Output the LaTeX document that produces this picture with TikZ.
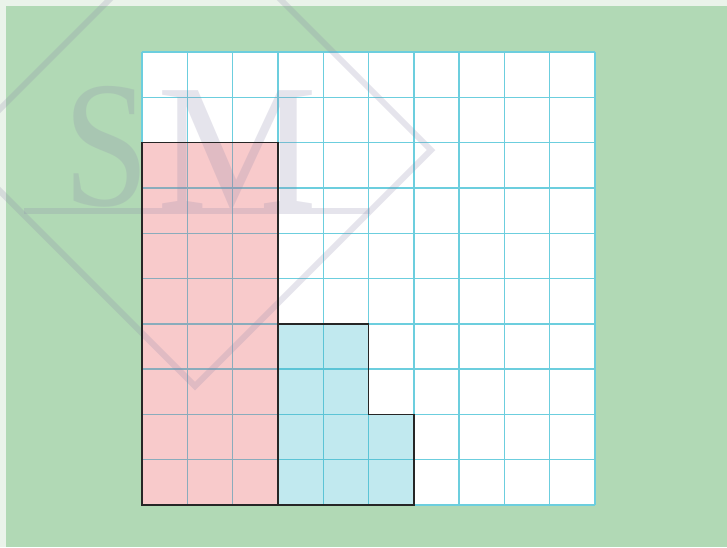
\documentclass[tikz,border=0pt]{standalone}
\usepackage{fontspec}
\newfontfamily\wmfont{Liberation Serif}
\definecolor{outerbg}{RGB}{234,243,234}
\definecolor{bggreen}{RGB}{177,217,181}
\definecolor{redfill}{RGB}{248,202,203}
\definecolor{bluefill}{RGB}{193,233,239}
\definecolor{gridcyan}{RGB}{108,206,222}
\definecolor{gridonred}{RGB}{138,172,188}
\definecolor{gridonblue}{RGB}{92,196,214}
\definecolor{wmgray}{RGB}{140,135,170}
\tikzset{
  gridline/.style={draw=gridcyan, line width=1.4pt},
  redline/.style={draw=gridonred, line width=1.4pt},
  blueline/.style={draw=gridonblue, line width=1.4pt},
  outline/.style={draw=black!85, line width=1.5pt, line join=miter},
  wmstroke/.style={draw=wmgray, draw opacity=0.22, line width=6pt},
  wmtext/.style={text=wmgray, text opacity=0.22, inner sep=0pt, anchor=base,
    font=\wmfont\fontsize{180}{180}\selectfont}
}
\begin{document}
\begin{tikzpicture}[x=1pt, y=-1pt]
\useasboundingbox (0,0) rectangle (727,547);
\fill[outerbg] (0,0) rectangle (727,547);
\fill[bggreen] (6,6) rectangle (727,547);
% grid area
\fill[white] (142,52) rectangle (595,505);
\fill[redfill] (142,142.6) rectangle (277.9,505);
\fill[bluefill] (277.9,323.8) -- (368.5,323.8) -- (368.5,414.4) -- (413.8,414.4) -- (413.8,505) -- (277.9,505) -- cycle;
% grid lines
\foreach \i in {0,...,10}{
  \draw[gridline] ({142+45.3*\i},52) -- ({142+45.3*\i},505);
  \draw[gridline] (142,{52+45.3*\i}) -- (595,{52+45.3*\i});
}
% grid lines over the red region
\foreach \i in {1,2}{
  \draw[redline] ({142+45.3*\i},142.6) -- ({142+45.3*\i},505);
}
\foreach \j in {3,...,9}{
  \draw[redline] (142,{52+45.3*\j}) -- (277.9,{52+45.3*\j});
}
% grid lines over the blue region
\draw[blueline] (323.2,323.8) -- (323.2,505);
\draw[blueline] (368.5,414.4) -- (368.5,505);
\draw[blueline] (277.9,369.1) -- (368.5,369.1);
\draw[blueline] (277.9,414.4) -- (413.8,414.4);
\draw[blueline] (277.9,459.7) -- (413.8,459.7);
% watermark
\draw[wmstroke] (-41,150) -- (195,-86) -- (431,150) -- (195,386) -- cycle;
\draw[wmstroke] (24,211) -- (370,211);
\node[wmtext, xscale=0.86] (wmS) at (107,205) {S};
\node[wmtext] (wmM) at (238,208) {M};
% outlines
\draw[outline] (142,142.6) rectangle (277.9,505);
\draw[outline] (277.9,323.8) -- (368.5,323.8) -- (368.5,414.4) -- (413.8,414.4) -- (413.8,505) -- (277.9,505);
\end{tikzpicture}
\end{document}
